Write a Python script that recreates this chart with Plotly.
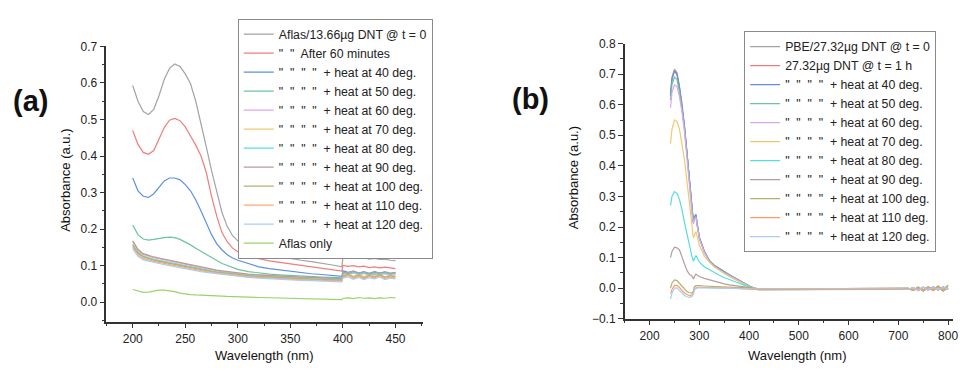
import plotly.graph_objects as go

# ---------------- Panel (a) data ----------------
WL_A = [200, 205, 210, 215, 220, 225, 230, 235, 240, 245, 250, 255, 260, 265, 270, 275, 280, 285, 290, 295,
        300, 310, 320, 330, 340, 350, 360, 370, 380, 390, 399,
        400, 405, 410, 415, 420, 425, 430, 435, 440, 445, 450]

A_T0 = [.593, .55, .522, .514, .528, .565, .61, .64, .652, .645, .625, .598, .55, .49, .425, .36, .30, .245, .207, .182,
        .168, .148, .138, .130, .125, .119, .115, .111, .107, .102, .097,
        .124, .121, .123, .120, .122, .118, .120, .117, .118, .115, .114]
A_60MIN = [.47, .432, .41, .405, .415, .445, .478, .498, .503, .497, .48, .455, .43, .40, .355, .29, .235, .19, .165, .148,
           .138, .125, .118, .113, .109, .105, .101, .097, .093, .089, .085,
           .101, .098, .100, .097, .099, .095, .097, .094, .096, .093, .092]
A_40 = [.34, .305, .29, .287, .297, .315, .332, .34, .34, .335, .322, .305, .28, .25, .215, .185, .16, .143, .13, .121,
        .115, .105, .097, .092, .088, .084, .081, .078, .076, .073, .071,
        .086, .082, .085, .080, .083, .079, .084, .080, .082, .079, .081]
A_50 = [.211, .185, .173, .17, .172, .175, .177, .178, .177, .172, .165, .157, .148, .139, .131, .122, .114, .106, .10, .094,
        .09, .084, .08, .077, .075, .073, .071, .07, .069, .068, .067,
        .082, .079, .084, .078, .081, .077, .083, .079, .080, .076, .079]
A_60 = [.166, .142, .131, .126, .122, .119, .116, .113, .110, .106, .103, .099, .096, .093, .090, .088, .086, .084, .082, .080,
        .079, .076, .074, .072, .070, .069, .068, .067, .066, .065, .064,
        .078, .075, .080, .074, .079, .073, .077, .075, .078, .072, .076]
A_70 = [.160, .138, .127, .122, .118, .115, .112, .109, .106, .103, .099, .096, .093, .090, .088, .086, .084, .082, .080, .078,
        .077, .074, .072, .070, .068, .067, .066, .065, .064, .063, .062,
        .074, .079, .071, .076, .070, .075, .072, .077, .069, .074, .071]
A_80 = [.158, .136, .126, .121, .117, .114, .111, .108, .105, .102, .098, .095, .092, .089, .087, .085, .083, .081, .079, .077,
        .076, .073, .071, .069, .067, .066, .065, .064, .063, .062, .061,
        .080, .076, .082, .077, .081, .075, .079, .076, .081, .077, .080]
A_90 = [.168, .145, .133, .128, .124, .121, .118, .115, .112, .108, .105, .101, .098, .095, .092, .090, .088, .086, .084, .082,
        .080, .077, .075, .073, .071, .070, .069, .068, .067, .066, .065,
        .083, .079, .085, .080, .084, .078, .082, .080, .084, .079, .082]
A_100 = [.155, .134, .124, .119, .115, .112, .109, .106, .103, .100, .097, .094, .091, .088, .086, .084, .082, .080, .078, .076,
         .075, .072, .070, .068, .066, .065, .064, .063, .062, .061, .060,
         .071, .076, .068, .074, .067, .073, .069, .075, .068, .072, .070]
A_110 = [.150, .130, .120, .115, .112, .109, .106, .103, .100, .097, .094, .091, .088, .086, .084, .082, .080, .078, .076, .074,
         .073, .070, .068, .066, .064, .063, .062, .061, .060, .059, .058,
         .068, .073, .066, .071, .064, .070, .067, .072, .065, .069, .066]
A_120 = [.146, .126, .116, .112, .109, .106, .103, .100, .097, .094, .091, .088, .086, .084, .082, .080, .078, .076, .074, .072,
         .071, .068, .066, .064, .062, .061, .060, .059, .058, .057, .056,
         .066, .070, .063, .068, .062, .067, .064, .069, .062, .066, .064]
A_ONLY = [.035, .03, .027, .028, .031, .033, .033, .032, .029, .025, .022, .021, .02, .019, .019, .018, .017, .017, .016, .016,
          .015, .014, .013, .012, .012, .011, .010, .010, .009, .008, .007,
          .011, .012, .010, .013, .011, .012, .010, .012, .011, .013, .012]

Q = "\"\u00a0 \"\u00a0 \"\u00a0 \"\u00a0 + heat at "
NAMES_A = ["Aflas/13.66µg DNT @ t = 0", "\"\u00a0 \"\u00a0 After 60 minutes",
           Q + "40 deg.", Q + "50 deg.", Q + "60 deg.", Q + "70 deg.", Q + "80 deg.", Q + "90 deg.",
           Q + "100 deg.", Q + "110 deg.", Q + "120 deg.", "Aflas only"]
SERIES_A = [A_T0, A_60MIN, A_40, A_50, A_60, A_70, A_80, A_90, A_100, A_110, A_120, A_ONLY]
COLORS_A = ["#a3a3a3", "#f27b7b", "#5f8fe3", "#6cc4a0", "#d8a8f0", "#f0c870", "#56dede", "#b89c9c",
            "#b5b06c", "#ffa574", "#a9cdf2", "#98d46a"]

# ---------------- Panel (b) data ----------------
WL_B_HEAD = [242, 245, 250, 255, 260, 265, 270, 275, 280, 285, 288, 290, 293, 296, 300, 310, 320, 330, 340, 350,
             360, 370, 380, 390, 400]
WL_B_TAIL = [410, 420, 450, 500, 550, 600, 650, 700, 720, 730, 740, 750, 760, 770, 780, 790, 800]

TAIL_1 = [.000, -.002, -.002, -.002, -.002, -.002, -.002, -.003, -.001, -.006, .003, -.007, .004, -.005, .006, -.006, .009]
TAIL_2 = [-.001, -.003, -.003, -.003, -.002, -.003, -.003, -.002, -.004, .002, -.008, .003, -.006, .005, -.007, .004, -.004]
TAIL_3 = [-.003, -.005, -.005, -.004, -.004, -.004, -.003, -.004, -.002, -.007, .001, -.009, .002, -.008, .003, -.009, .001]

B_T0 = [.635, .69, .716, .705, .66, .605, .533, .447, .347, .252, .217, .233, .242, .207, .167, .121, .091, .075, .064,
        .054, .045, .035, .025, .016, .007]
B_1H = [.63, .686, .712, .70, .656, .60, .528, .442, .343, .248, .214, .229, .238, .204, .164, .119, .089, .073, .062,
        .052, .043, .034, .024, .015, .006]
B_40 = [.628, .684, .71, .699, .655, .60, .53, .445, .346, .251, .216, .232, .24, .206, .166, .12, .09, .074, .063,
        .053, .044, .035, .025, .016, .007]
B_50 = [.615, .667, .69, .682, .642, .59, .522, .44, .342, .248, .213, .228, .236, .203, .163, .118, .088, .072, .061,
        .051, .042, .033, .023, .014, .006]
B_60 = [.59, .64, .665, .66, .625, .578, .513, .433, .337, .244, .21, .224, .232, .2, .161, .117, .087, .071, .06,
        .05, .041, .032, .022, .014, .005]
B_70 = [.473, .52, .55, .545, .52, .475, .42, .35, .28, .20, .165, .172, .185, .168, .14, .105, .085, .07, .058,
        .048, .038, .03, .02, .012, .005]
B_80 = [.27, .30, .316, .31, .29, .258, .215, .175, .14, .105, .088, .098, .107, .098, .085, .07, .06, .05, .042,
        .035, .028, .022, .016, .01, .005]
B_90 = [.10, .12, .134, .132, .125, .105, .08, .058, .045, .04, .03, .038, .046, .042, .038, .032, .027, .022, .018,
        .014, .011, .008, .006, .004, .002]
B_100 = [.0, .017, .027, .025, .016, .006, -.004, -.011, -.015, -.016, -.010, .004, .008, .009, .008, .007, .006, .005, .005,
         .004, .003, .003, .002, .002, .001]
B_110 = [-.018, -.004, .009, .009, .002, -.008, -.016, -.021, -.024, -.023, -.015, -.002, .002, .003, .003, .002, .002, .001, .001,
         .001, .0, .0, .0, -.001, -.002]
B_120 = [-.036, -.016, .0, .001, -.007, -.016, -.024, -.028, -.03, -.027, -.02, -.004, .0, .001, .001, .001, .0, .0, .0,
         .0, -.001, -.001, -.001, -.002, -.002]

NAMES_B = ["PBE/27.32µg DNT @ t = 0", "27.32µg DNT @ t = 1 h",
           Q + "40 deg.", Q + "50 deg.", Q + "60 deg.", Q + "70 deg.", Q + "80 deg.", Q + "90 deg.",
           Q + "100 deg.", Q + "110 deg.", Q + "120 deg."]
SERIES_B = [(B_T0, TAIL_1), (B_1H, TAIL_2), (B_40, TAIL_1), (B_50, TAIL_3), (B_60, TAIL_2), (B_70, TAIL_1),
            (B_80, TAIL_3), (B_90, TAIL_2), (B_100, TAIL_1), (B_110, TAIL_3), (B_120, TAIL_2)]
COLORS_B = ["#a3a3a3", "#f27b7b", "#5f8fe3", "#6cc4a0", "#d8a8f0", "#f0c870", "#56dede", "#b89c9c",
            "#b5b06c", "#ff9a60", "#a9cdf2"]

FONT = "Arial, 'Liberation Sans', sans-serif"

fig = go.Figure()
for name, ys, col in zip(NAMES_A, SERIES_A, COLORS_A):
    fig.add_trace(go.Scatter(x=WL_A, y=ys, name=name, mode="lines",
                             line=dict(color=col, width=1.2), xaxis="x", yaxis="y", legend="legend"))
for name, (head, tail), col in zip(NAMES_B, SERIES_B, COLORS_B):
    fig.add_trace(go.Scatter(x=WL_B_HEAD + WL_B_TAIL, y=head + tail, name=name, mode="lines",
                             line=dict(color=col, width=1.2), xaxis="x2", yaxis="y2", legend="legend2"))

axis_common = dict(showline=True, linecolor="#333333", linewidth=1.5, ticks="outside", ticklen=5,
                   tickwidth=1.3, tickcolor="#333333", showgrid=False, zeroline=False, mirror=False,
                   tickfont=dict(family=FONT, size=12, color="#222222"))

H = 370.0
W = 966.0


def ann(text, px, py, size, angle=0):
    return dict(text=text, x=px / W, y=1 - py / H, xref="paper", yref="paper", showarrow=False,
                xanchor="center", yanchor="middle", textangle=angle,
                font=dict(family=FONT, size=size, color="#111111"))


LEG_FONT = dict(family=FONT, size=12.3, color="#222222")

fig.update_layout(
    width=966, height=370,
    margin=dict(l=0, r=0, t=0, b=0),
    paper_bgcolor="white", plot_bgcolor="white",
    font=dict(family=FONT, size=12, color="#222222"),
    xaxis=dict(domain=[107 / W, 425 / W], range=[175, 476], dtick=50, tick0=0,
               minor=dict(dtick=25, ticks="outside", ticklen=3, tickcolor="#333333"), anchor="y", **axis_common),
    yaxis=dict(domain=[(H - 327) / H, (H - 41) / H], range=[-0.053, 0.7], dtick=0.1, tick0=0, tickformat=".1f",
               minor=dict(dtick=0.05, ticks="outside", ticklen=3, tickcolor="#333333"), anchor="x", **axis_common),
    xaxis2=dict(domain=[628 / W, 958 / W], range=[150, 810], dtick=100, tick0=0,
                minor=dict(dtick=50, ticks="outside", ticklen=3, tickcolor="#333333"), anchor="y2", **axis_common),
    yaxis2=dict(domain=[(H - 324) / H, (H - 38) / H], range=[-0.1, 0.8], dtick=0.1, tick0=0, tickformat=".1f",
                minor=dict(dtick=0.05, ticks="outside", ticklen=3, tickcolor="#333333"), anchor="x2", **axis_common),
    legend=dict(x=239 / W, y=1 - 12 / H, xanchor="left", yanchor="top", bgcolor="white",
                bordercolor="#8a8a8a", borderwidth=1, font=LEG_FONT, tracegroupgap=0, itemwidth=30),
    legend2=dict(x=748 / W, y=1 - 25 / H, xanchor="left", yanchor="top", bgcolor="white",
                 bordercolor="#8a8a8a", borderwidth=1, font=LEG_FONT, tracegroupgap=0, itemwidth=30),
    annotations=[
        ann("<b>(a)</b>", 31, 98, 29),
        ann("<b>(b)</b>", 533, 96, 29),
        ann("Absorbance (a.u.)", 66, 180, 13, -90),
        ann("Absorbance (a.u.)", 576, 178, 13, -90),
        ann("Wavelength (nm)", 266, 362, 13),
        ann("Wavelength (nm)", 802, 362, 13),
    ],
)

fig.write_html("out.html", config={"displayModeBar": False},
               post_script="document.body.style.margin='0px';")
